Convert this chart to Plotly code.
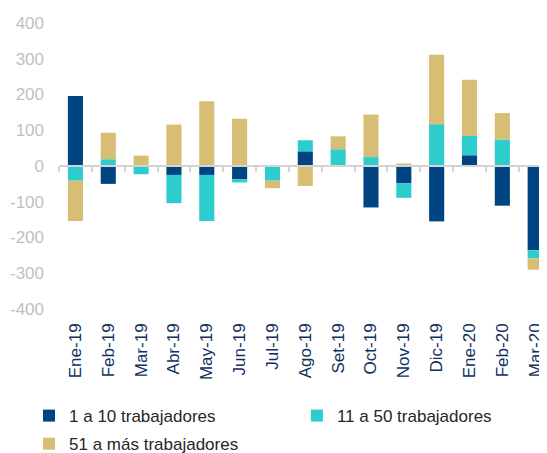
import plotly.graph_objects as go

meses = ["Ene-19", "Feb-19", "Mar-19", "Abr-19", "May-19", "Jun-19", "Jul-19", "Ago-19",
         "Set-19", "Oct-19", "Nov-19", "Dic-19", "Ene-20", "Feb-20", "Mar-20"]
serie_1a10 = [196, -50, 0, -25, -25, -37, 0, 41, 0, -116, -48, -155, 30, -111, -236]
serie_11a50 = [-41, 19, -23, -79, -129, -9, -41, 31, 47, 25, -41, 117, 54, 74, -22]
serie_51mas = [-113, 74, 29, 116, 181, 132, -21, -56, 36, 119, 7, 194, 157, 74, -32]
y_ticks = [-400, -300, -200, -100, 0, 100, 200, 300, 400]
y_tick_labels = ["-400", "-300", "-200", "-100", "0", "100", "200", "300", "400"]

nombres = ["1 a 10 trabajadores", "11 a 50 trabajadores", "51 a más trabajadores"]
colores = ["#004481", "#2DCCCD", "#D8BE75"]
leyendas = ["legend", "legend2", "legend"]
grupos = ["g1", "g2", "g3"]

FONT = "Arial, Liberation Sans, sans-serif"

fig = go.Figure()
for nombre, vals, col, lg, gr in zip(nombres, [serie_1a10, serie_11a50, serie_51mas],
                                     colores, leyendas, grupos):
    fig.add_trace(go.Bar(x=meses, y=vals, name=nombre, marker_color=col,
                         marker_line_width=0, width=0.46, legend=lg, legendgroup=gr))

# helper trace for the zero axis with boundary ticks
fig.add_trace(go.Scatter(x=meses, y=[0] * len(meses), xaxis="x2", mode="markers",
                         marker=dict(opacity=0), showlegend=False, hoverinfo="skip"))

xr = [-0.5, 14.36]
legfont = dict(size=17, color="#262626")
fig.update_layout(
    width=539, height=445,
    barmode="relative",
    plot_bgcolor="white", paper_bgcolor="white",
    margin=dict(l=51, r=0, t=15, b=144, autoexpand=False),
    font=dict(family=FONT),
    xaxis=dict(type="category", categoryarray=meses, range=xr, showline=False,
               showgrid=False, zeroline=False, tickangle=-90, ticks="",
               tickfont=dict(size=17, color="#12305E"), ticklabelstandoff=10,
               automargin=False),
    xaxis2=dict(type="category", categoryarray=meses, range=xr, overlaying="x",
                anchor="free", position=0.5, showline=True, linecolor="#D4D4D4",
                linewidth=2, ticks="outside", tickson="boundaries", ticklen=5,
                tickwidth=2, tickcolor="#D4D4D4", showticklabels=False,
                showgrid=False, zeroline=False, side="bottom", automargin=False),
    yaxis=dict(range=[-400, 400], tickmode="array", tickvals=y_ticks, ticktext=y_tick_labels,
               showgrid=False, zeroline=False, showline=False, ticks="",
               tickfont=dict(size=17, color="#BFBFBF"), ticklabelstandoff=14,
               automargin=False),
    legend=dict(orientation="v", xref="container", yref="container",
                x=0.039, y=0.1235, xanchor="left", yanchor="top",
                font=legfont, traceorder="grouped", tracegroupgap=3,
                bgcolor="rgba(0,0,0,0)"),
    legend2=dict(orientation="v", xref="container", yref="container",
                 x=0.536, y=0.1235, xanchor="left", yanchor="top",
                 font=legfont, bgcolor="rgba(0,0,0,0)"),
    bargap=0.54,
)

fig.write_html("out.html")
